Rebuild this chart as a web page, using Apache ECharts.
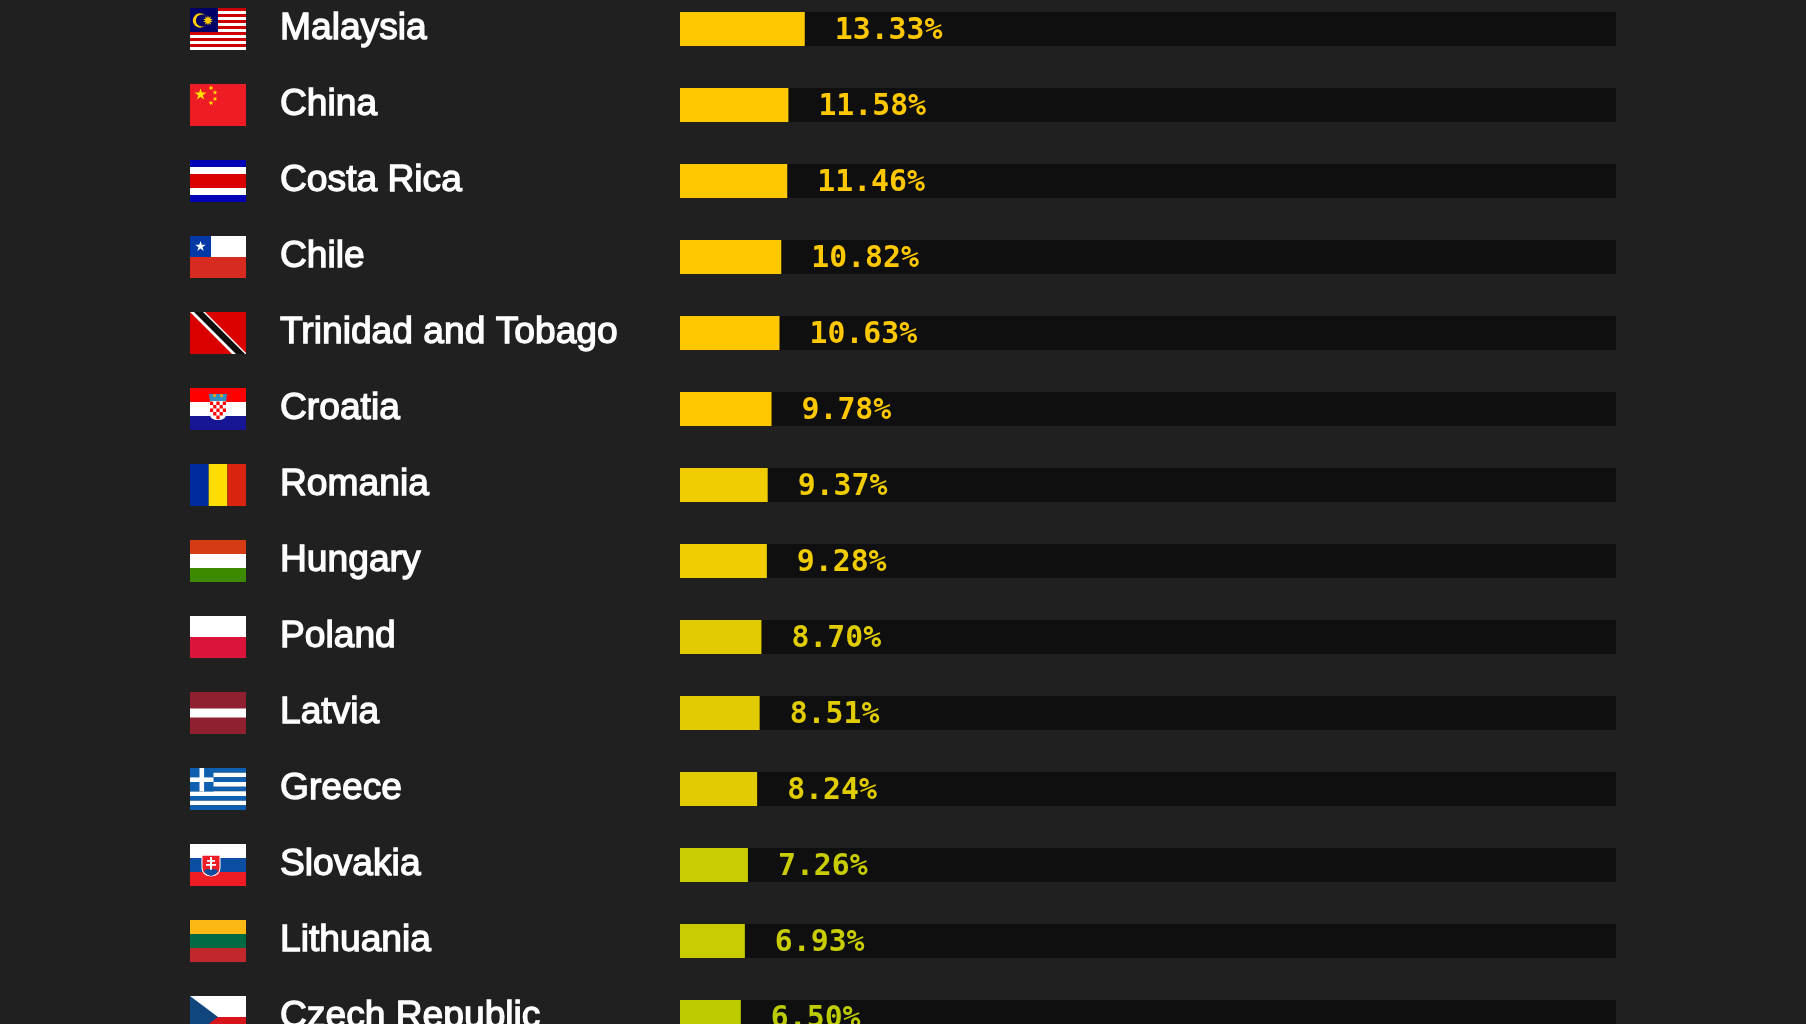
<!DOCTYPE html>
<html>
<head>
<meta charset="utf-8">
<style>html,body{margin:0;padding:0;background:#202020}#c{width:1806px;height:1024px}</style>
<script src="https://cdn.jsdelivr.net/npm/echarts@6/dist/echarts.min.js"></script>
</head>
<body>
<div id="c"></div>
<script>
const countries = ['Malaysia','China','Costa Rica','Chile','Trinidad and Tobago','Croatia','Romania','Hungary','Poland','Latvia','Greece','Slovakia','Lithuania','Czech Republic'];
const shares = [13.33,11.58,11.46,10.82,10.63,9.78,9.37,9.28,8.70,8.51,8.24,7.26,6.93,6.50];
const barColors = ['#ffc800','#ffc800','#ffc800','#ffc800','#ffc800','#ffc800','#f0cc00','#f0cc00','#e0cc00','#e0cc00','#e0cc00','#c8cc00','#c8cc00','#bccc00'];
const shareMax = 100;

function r(x,y,w,h,c){return {type:'rect',shape:{x,y,width:w,height:h},style:{fill:c}};}
function poly(points,c){return {type:'polygon',shape:{points},style:{fill:c}};}
function circ(cx,cy,rad,c){return {type:'circle',shape:{cx,cy,r:rad},style:{fill:c}};}
function star(cx,cy,R,c,rot){
  const p=[];rot=rot||0;
  for(let i=0;i<10;i++){
    const a=-Math.PI/2+rot+i*Math.PI/5, q=i%2?R*0.382:R;
    p.push([cx+q*Math.cos(a),cy+q*Math.sin(a)]);
  }
  return poly(p,c);
}
function hStripes(cols){
  const h=42/cols.length;
  return cols.map((c,i)=>r(0,i*h,56,h,c));
}
const flags = {
  'Malaysia':()=>{
    const a=[];
    for(let i=0;i<14;i++)a.push(r(0,i*3,56,3,i%2?'#ffffff':'#cc0000'));
    a.push(r(0,0,28,24,'#010066'));
    a.push(circ(10,12.5,7.2,'#ffcc00'));
    a.push(circ(12,12.5,6.1,'#010066'));
    a.push(star(18,12.5,5.2,'#ffcc00'));
    a.push(star(18,12.5,5.2,'#ffcc00',Math.PI/5));
    return a;
  },
  'China':()=>[
    r(0,0,56,42,'#ee1c25'),
    star(10.5,10.5,6.3,'#ffe000'),
    star(21,4,2.7,'#ffe000',0.9),
    star(25,8.5,2.7,'#ffe000',1.3),
    star(25,15,2.7,'#ffe000',1.9),
    star(21,19,2.7,'#ffe000',2.3)
  ],
  'Costa Rica':()=>[
    r(0,0,56,42,'#0000b4'),
    r(0,7,56,28,'#ffffff'),
    r(0,14,56,14,'#da0000')
  ],
  'Chile':()=>[
    r(0,0,56,21,'#ffffff'),
    r(0,21,56,21,'#d72b1f'),
    r(0,0,21,21,'#0039a6'),
    star(10.5,10.5,5.5,'#ffffff')
  ],
  'Trinidad and Tobago':()=>[
    r(0,0,56,42,'#da0000'),
    poly([[0,0],[15,0],[56,41],[56,42],[42,42],[0,0]],'#ffffff'),
    poly([[4,0],[13,0],[55,42],[46,42]],'#0f0f0f')
  ],
  'Croatia':()=>{
    const a=hStripes(['#ff0000','#ffffff','#171796']);
    a.push(poly([[19,6],[37,6],[36,13],[20,13]],'#2f8fc0'));
    a.push(r(23,6,3,3,'#d0a030'),r(30,6,3,3,'#d0a030'));
    a.push({type:'path',shape:{pathData:'M20 13 H36 V26 Q36 32 28 32 Q20 32 20 26 Z',x:20,y:13,width:16,height:19},style:{fill:'#ffffff'}});
    for(let y=0;y<5;y++)for(let x=0;x<5;x++){
      if((x+y)%2===0 && !(y===4&&(x===0||x===4)))a.push(r(20+x*3.2,13.5+y*3.5,3.2,3.5,'#ff0000'));
    }
    return a;
  },
  'Romania':()=>[r(0,0,18.7,42,'#002b9f'),r(18.7,0,18.7,42,'#ffdd00'),r(37.4,0,18.6,42,'#d9250f')],
  'Hungary':()=>hStripes(['#d53c14','#ffffff','#3c8a00']),
  'Poland':()=>hStripes(['#ffffff','#dc143c']),
  'Latvia':()=>[r(0,0,56,42,'#8e2030'),r(0,16.5,56,9,'#ffffff')],
  'Greece':()=>{
    const a=[];
    for(let i=0;i<9;i++)a.push(r(0,i*42/9,56,42/9,i%2?'#ffffff':'#0f5fb0'));
    a.push(r(0,0,23.5,23.5,'#0f5fb0'));
    a.push(r(9.5,0,4.6,23.5,'#ffffff'));
    a.push(r(0,9.4,23.5,4.6,'#ffffff'));
    return a;
  },
  'Slovakia':()=>{
    const a=hStripes(['#ffffff','#0b4ea2','#ee1c25']);
    a.push({type:'path',shape:{pathData:'M11 10 H31 V24 Q31 32 21 33 Q11 32 11 24 Z',x:11.5,y:10,width:19,height:23},style:{fill:'#ffffff'}});
    a.push({type:'path',shape:{pathData:'M11 10 H31 V24 Q31 32 21 33 Q11 32 11 24 Z',x:12.5,y:11,width:17,height:21},style:{fill:'#ee1c25'}});
    a.push(r(20,13,2,14,'#ffffff'),r(17,16,8,1.8,'#ffffff'),r(16,20,10,1.8,'#ffffff'));
    a.push({type:'path',shape:{pathData:'M14 27 Q17 24 21 26 Q25 24 28 27 Q26 31 21 32 Q16 31 14 27 Z',x:14,y:25,width:14,height:7},style:{fill:'#0b4ea2'}});
    return a;
  },
  'Lithuania':()=>hStripes(['#fdb913','#006a44','#c1272d']),
  'Czech Republic':()=>[
    r(0,0,56,21,'#ffffff'),
    r(0,21,56,21,'#d7141a'),
    poly([[0,0],[28,21],[0,42]],'#11457e')
  ]
};

const chart = echarts.init(document.getElementById('c'), null, {renderer:'canvas'});
chart.setOption({
  backgroundColor:'#202020',
  animation:false,
  tooltip:{show:false},
  grid:{left:680,width:936,top:-9,height:76*countries.length,containLabel:false,outerBoundsMode:'none'},
  xAxis:{type:'value',min:0,max:shareMax,show:false},
  yAxis:{
    type:'category',inverse:true,data:countries,
    axisLine:{show:false},axisTick:{show:false},splitLine:{show:false},
    axisLabel:{
      show:true,interval:0,align:'left',margin:400,padding:[6,0,0,0],
      color:'#ffffff',fontFamily:'"Liberation Sans",Arial,sans-serif',fontSize:37.2,fontWeight:'normal',
      textBorderColor:'#ffffff',textBorderWidth:1.3
    }
  },
  series:[
    {
      type:'bar',
      barWidth:34,
      showBackground:true,
      backgroundStyle:{color:'#0f0f0f'},
      data:shares.map((v,i)=>({value:v,itemStyle:{color:barColors[i]},label:{color:barColors[i]}})),
      label:{
        show:true,position:'right',distance:30,offset:[0,2],
        fontFamily:'"DejaVu Sans Mono",monospace',fontWeight:'bold',fontSize:29.8,
        formatter:p=>p.value.toFixed(2)+'%'
      }
    },
    {
      type:'custom',
      clip:false,
      silent:true,
      data:countries.map((c,i)=>[0,i]),
      encode:{x:0,y:1},
      renderItem:(params,api)=>{
        const idx=api.value(1);
        const pt=api.coord([0,idx]);
        return {type:'group',x:pt[0]-490,y:pt[1]-21,children:flags[countries[idx]]()};
      }
    }
  ]
});
</script>
</body>
</html>
